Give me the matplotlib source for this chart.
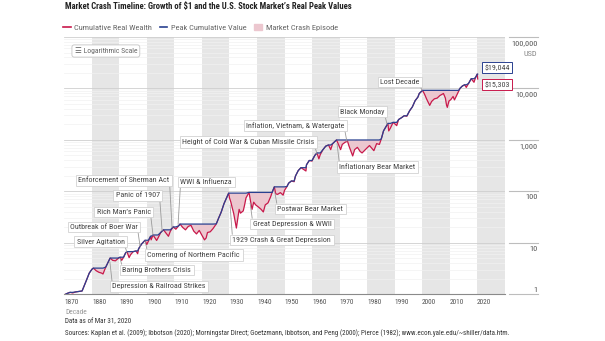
import matplotlib
matplotlib.use("Agg")
import matplotlib.pyplot as plt
import matplotlib.transforms as mtransforms
from matplotlib.lines import Line2D
from matplotlib.patches import Patch
import numpy as np

plt.rcParams['font.family'] = ['Roboto Condensed', 'Liberation Sans Narrow', 'Roboto', 'DejaVu Sans']

# ---- data ----
years = [1870.2, 1871, 1872, 1873, 1874, 1875, 1876.4, 1877, 1878, 1879, 1880, 1880.5,
         1881.5, 1882.5, 1883.5, 1884, 1885, 1886, 1886.6, 1887.5, 1888.5, 1889.5,
         1890.2, 1890.8, 1891.5, 1892.2, 1892.7, 1893.5, 1894, 1895, 1896, 1896.6,
         1897, 1898, 1899.3, 1899.9, 1900.5, 1901.3, 1901.5, 1902.2, 1903.5, 1904,
         1905, 1906, 1907.8, 1908.5, 1909.5, 1910.5, 1911.5, 1912, 1913, 1914, 1915,
         1916, 1917, 1918, 1919, 1920.9, 1921.5, 1922, 1923, 1924, 1925.2, 1926, 1927,
         1928, 1929.7, 1930, 1930.5, 1931, 1931.5, 1932.5, 1933, 1933.5, 1934, 1935,
         1935.5, 1936, 1937.1, 1937.8, 1938.2, 1938.8, 1939.5, 1940.5, 1941.5, 1942.3,
         1943, 1944, 1945, 1945.5, 1946.3, 1946.8, 1947.5, 1948.5, 1949.5, 1950,
         1950.9, 1951.5, 1952.5, 1953.5, 1954, 1955, 1956, 1957.8, 1958, 1959, 1960,
         1961, 1961.8, 1962.5, 1963, 1964, 1965, 1966, 1966.8, 1967.5, 1968.9, 1969.5,
         1970.4, 1971, 1972, 1972.9, 1973.5, 1974.8, 1975.5, 1976.5, 1977.5, 1978.2,
         1979, 1980, 1980.9, 1982.5, 1983.5, 1984.5, 1985.2, 1986, 1987.6, 1987.9,
         1988.5, 1989.5, 1990.8, 1991.5, 1992.5, 1993.5, 1994.5, 1995.5, 1996.5,
         1997.5, 1998.5, 1999, 2000.2, 2000.9, 2001.7, 2002.8, 2003.5, 2004.5, 2005.5,
         2006.5, 2007.8, 2008.5, 2008.9, 2009.2, 2009.8, 2010.5, 2011.3, 2011.8,
         2012.5, 2013.3, 2013.9, 2014.7, 2015.5, 2016.1, 2016.9, 2017.9, 2018.9,
         2019.5, 2020.1, 2020.25]
wealth = [1.0, 1.05, 1.1, 1.07, 1.12, 1.14, 1.17, 1.4, 1.9, 2.6, 3.1, 3.25,
          2.9, 2.7, 2.6, 2.5, 3.4, 4.4, 5.1, 4.6, 4.5, 5.0,
          5.3, 4.6, 5.3, 6.4, 6.8, 5.2, 5.9, 6.8, 7.0, 6.2,
          7.8, 9.5, 11.3, 9.3, 10.8, 13.5, 11.5, 14.3, 11.2, 12.5,
          16.0, 18.0, 13.5, 17.0, 20.5, 18.5, 21.5, 23.3, 20.0, 18.0, 21.0,
          22.0, 17.0, 15.0, 17.5, 11.5, 12.5, 16.0, 16.5, 19.0, 23.5, 30.0, 40.0,
          58.0, 93.0, 75.0, 62.0, 48.0, 38.0, 19.5, 30.0, 45.0, 38.0, 42.0,
          55.0, 75.0, 96.0, 58.0, 45.0, 62.0, 55.0, 50.0, 45.0, 40.0,
          55.0, 60.0, 80.0, 96.0, 123.0, 90.0, 88.0, 95.0, 85.0, 105.0,
          125.0, 145.0, 160.0, 155.0, 200.0, 255.0, 290.0, 250.0, 330.0, 400.0, 390.0,
          500.0, 560.0, 430.0, 520.0, 650.0, 760.0, 800.0, 650.0, 850.0, 1000.0, 850.0,
          650.0, 820.0, 900.0, 950.0, 750.0, 490.0, 650.0, 720.0, 600.0, 560.0,
          620.0, 700.0, 780.0, 620.0, 850.0, 820.0, 1050.0, 1500.0, 2100.0, 1500.0,
          1700.0, 2200.0, 1900.0, 2500.0, 2700.0, 2950.0, 2900.0, 3700.0, 4400.0,
          5800.0, 6800.0, 8000.0, 9200.0, 7800.0, 6200.0, 4700.0, 5600.0, 6300.0, 6500.0,
          7300.0, 8000.0, 6500.0, 4800.0, 4300.0, 5700.0, 6100.0, 7000.0, 6000.0,
          7200.0, 8800.0, 10200.0, 11200.0, 11800.0, 10500.0, 12500.0, 15500.0, 13200.0,
          16500.0, 19044.0, 15303.0]

decades = list(range(1870, 2030, 10))
shade_decades = list(range(1880, 2030, 20))
usd_ticks = [1, 10, 100, 1000, 10000, 100000]

# label, box edge year (where the leader drops), box value, leader end value, box side of edge
events = [
    ("Depression & Railroad Strikes", 1886.5, 1.43, 4.3, 'left'),
    ("Baring Brothers Crisis", 1890.2, 2.99, 5.0, 'left'),
    ("Silver Agitation", 1892.7, 10.5, 6.6, 'right'),
    ("Outbreak of Boer War", 1897.5, 20.5, 8.5, 'right'),
    ("Cornering of Northern Pacific", 1899.3, 5.85, 11, 'left'),
    ("Rich Man\u2019s Panic", 1902.2, 40, 14, 'right'),
    ("Panic of 1907", 1905.5, 83.6, 17, 'right'),
    ("Enforcement of Sherman Act", 1909.1, 163.6, 20, 'right'),
    ("WWI & Influenza", 1911.3, 153, 23, 'left'),
    ("1929 Crash & Great Depression", 1930.2, 11.4, 55, 'left'),
    ("Great Depression & WWII", 1937.5, 23.4, 60, 'left'),
    ("Postwar Bear Market", 1946.5, 45.7, 95, 'left'),
    ("Height of Cold War & Cuban Missile Crisis", 1961.8, 915, 540, 'right'),
    ("Inflation, Vietnam, & Watergate", 1972.7, 1913, 930, 'right'),
    ("Inflationary Bear Market", 1969.1, 299, 850, 'left'),
    ("Black Monday", 1987.3, 3575, 2000, 'right'),
    ("Lost Decade", 2000.0, 13370, 9200, 'right'),
]

RED = '#c8194b'
BLUE = '#2a4190'
PINK = '#ecc7cf'
BAND = '#e6e6e6'

years = np.array(years)
wealth = np.array(wealth)
peak = np.maximum.accumulate(wealth)

fig = plt.figure(figsize=(6.05, 3.41), dpi=100)
renderer = fig.canvas.get_renderer()


def fit_size(s, target_px, weight='normal'):
    # font size that makes s about target_px wide with whatever font is installed
    t = fig.text(0, 0, s, fontsize=10, fontweight=weight)
    w = t.get_window_extent(renderer).width
    t.remove()
    return 10 * target_px / w


fs_ann = fit_size("Enforcement of Sherman Act", 84) * 1.08
fs_tick = fit_size("1870", 11) * 1.3
fs_right = fit_size("100,000", 21.5) * 1.2
fs_leg = fit_size("Cumulative Real Wealth", 72) * 1.08
fs_title = fit_size("Market Crash Timeline: Growth of $1 and the U.S. Stock Market\u2019s Real Peak Values",
                    249, 'bold') * 1.15
src = ("Sources: Kaplan et al. (2009); Ibbotson (2020); Morningstar Direct; Goetzmann, Ibbotson, and Peng (2000); "
       "Pierce (1982); www.econ.yale.edu/~shiller/data.htm.")
fs_src = fit_size(src, 395) * 1.12
fs_log = fit_size("Logarithmic Scale", 50) * 1.08

ax = fig.add_axes([0.1066, 0.1364, 0.7273, 0.7551])

for d in shade_decades:
    ax.axvspan(d, d + 10, color=BAND, lw=0, zorder=0)

ax.fill_between(years, wealth, peak, where=wealth < peak, interpolate=True,
                color=PINK, lw=0, zorder=2)
ax.plot(years, wealth, color=RED, lw=0.9, zorder=3)
ax.plot(years, peak, color=BLUE, lw=0.9, zorder=4)

ax.set_yscale('log')
ax.set_xlim(1870, 2030)
ax.set_ylim(1, 100000)
ax.set_yticks(usd_ticks)
ax.grid(axis='y', which='major', color='#cfcfcf', lw=0.6, zorder=1)
ax.grid(axis='y', which='minor', color='#f1f1f1', lw=0.5, zorder=1)
ax.tick_params(axis='y', which='both', length=0, labelleft=False)
for s in ['top', 'right', 'left']:
    ax.spines[s].set_visible(False)
ax.spines['bottom'].set_color('#8a8a8a')
ax.spines['bottom'].set_linewidth(0.8)

ax.set_xticks(decades)
ax.set_xticklabels([str(d) for d in decades], ha='left', fontsize=fs_tick, color='#555555')
ax.tick_params(axis='x', length=0, pad=3)

# right-hand USD scale
trans = mtransforms.blended_transform_factory(ax.transAxes, ax.transData)
for v in usd_ticks:
    ax.plot([1.01, 1.075], [v, v], transform=trans, color='#bdbdbd', lw=0.8, clip_on=False)
    if v == 1:
        off = mtransforms.offset_copy(trans, fig=fig, y=1, units='points')
        va = 'bottom'
    else:
        off = mtransforms.offset_copy(trans, fig=fig, y=-2, units='points')
        va = 'top'
    ax.text(1.075, v, f"{v:,}", transform=off, ha='right', va=va, fontsize=fs_right, color='#555555')
usd_off = mtransforms.offset_copy(trans, fig=fig, y=-10, units='points')
ax.text(1.075, 100000, "USD", transform=usd_off, ha='right', va='top', fontsize=fs_right, color='#888888')

# event annotations, leader drops straight from the box corner
pad_yr = 0.3 * fs_ann / 72 * 100 / 2.75
for label, ex, tv, ev, side in events:
    rel_y = 0 if ev < tv else 1
    if side == 'right':
        tx, ha, rel_x = ex - pad_yr, 'right', 1
    else:
        tx, ha, rel_x = ex + pad_yr, 'left', 0
    ax.annotate(label, xy=(ex, ev), xytext=(tx, tv), ha=ha, va='center',
                fontsize=fs_ann, color='#444444', zorder=6,
                bbox=dict(boxstyle='square,pad=0.3', fc='white', ec='#d2d2d2', lw=0.6),
                arrowprops=dict(arrowstyle='-', color='#9a9a9a', lw=0.6, relpos=(rel_x, rel_y),
                                shrinkA=0, shrinkB=0))

# end labels
ax.annotate(f"${peak.max():,.0f}", xy=(2022.6, 25600), ha='left', va='center',
            fontsize=fs_ann, color='#444444', zorder=6,
            bbox=dict(boxstyle='square,pad=0.3', fc='white', ec=BLUE, lw=0.7))
ax.annotate(f"${wealth[-1]:,.0f}", xy=(2022.6, 11960), ha='left', va='center',
            fontsize=fs_ann, color='#444444', zorder=6,
            bbox=dict(boxstyle='square,pad=0.3', fc='white', ec=RED, lw=0.7))

ax.text(0.094, 0.9456, "\u2630 Logarithmic Scale", transform=ax.transAxes, ha='center',
        va='center', fontsize=fs_log, color='#666666', zorder=6,
        family=['Roboto Condensed', 'Liberation Sans Narrow', 'Roboto', 'DejaVu Sans'],
        bbox=dict(boxstyle='round,pad=0.35,rounding_size=0.3', fc='white', ec='#c4c4c4', lw=0.6))

# title, legend, footnotes
fig.text(65 / 605, 1 - 7 / 341, "Market Crash Timeline: Growth of $1 and the U.S. Stock Market\u2019s Real Peak Values",
         fontsize=fs_title, fontweight='bold', color='#222222', va='center', ha='left')
handles = [Line2D([], [], color=RED, lw=1.2), Line2D([], [], color=BLUE, lw=1.2),
           Patch(color=PINK)]
fig.legend(handles, ["Cumulative Real Wealth", "Peak Cumulative Value", "Market Crash Episode"],
           loc='center left', bbox_to_anchor=(63 / 605, 1 - 27.5 / 341), ncol=3, frameon=False,
           fontsize=fs_leg, labelcolor='#666666', handlelength=0.9, handleheight=0.7,
           handletextpad=0.45, columnspacing=0.9, borderaxespad=0, borderpad=0)

fig.text(65 / 605, 1 - 312 / 341, "Decade", fontsize=fs_tick, color='#999999', va='center')
fig.text(65 / 605, 1 - 322 / 341, "Data as of Mar 31, 2020", fontsize=fs_src, color='#333333', va='center')
fig.text(65 / 605, 1 - 333 / 341, src, fontsize=fs_src, color='#333333', va='center')

fig.savefig("out.png", dpi=100)
